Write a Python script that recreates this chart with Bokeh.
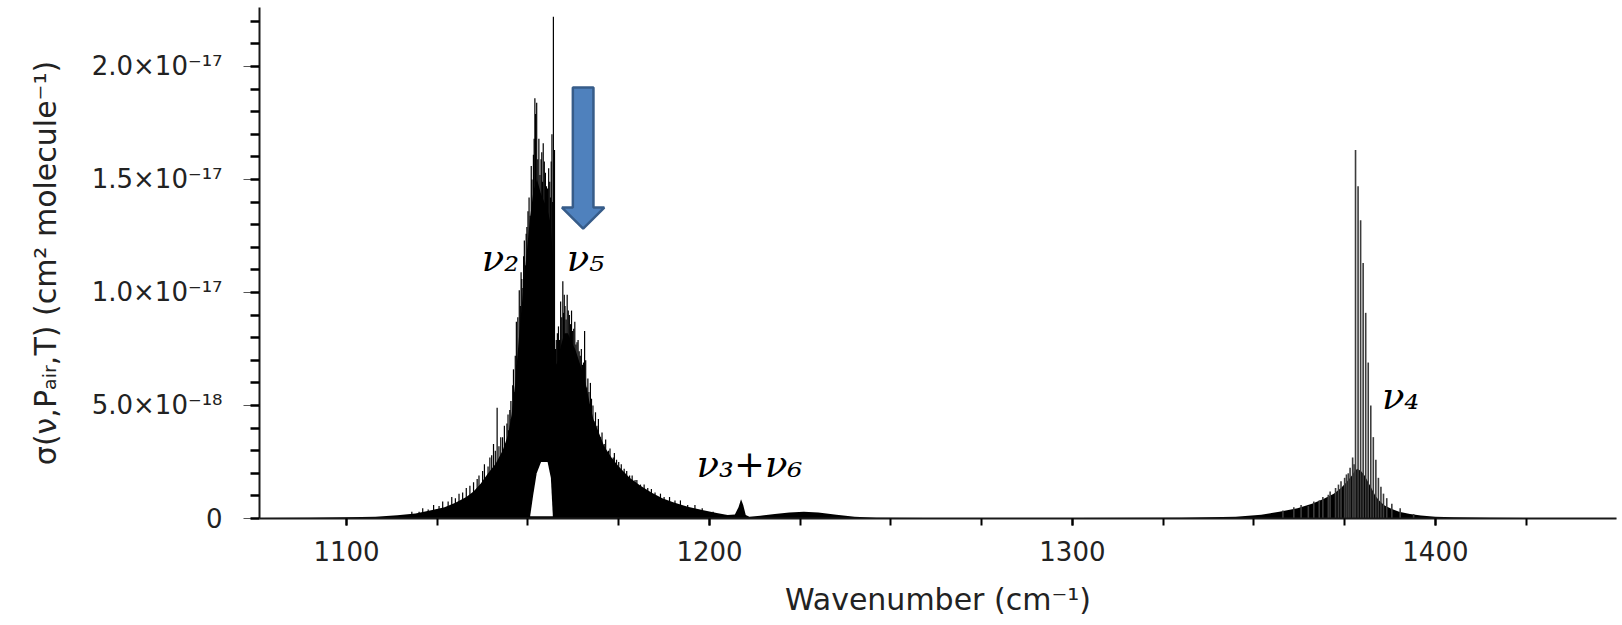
from bokeh.plotting import figure
from bokeh.models import FixedTicker, CustomJSTickFormatter, Range1d
from bokeh.core.properties import value
from bokeh.embed import file_html
from bokeh.resources import INLINE

# ---------------- data (cross-section in units of 1e-18 cm^2 molecule^-1) ----------------
# dense-band envelope (filled area)
env_x = [1076, 1090, 1100, 1108, 1114, 1119, 1123, 1127, 1130, 1133, 1135, 1137, 1139, 1141, 1143,
         1144.5, 1145.5, 1146.5, 1147.5, 1148.5, 1149.5, 1150.5, 1151.5, 1152.5, 1153.5, 1154.5,
         1155.5, 1156.3, 1156.9, 1157.3, 1158, 1159, 1160, 1161, 1162, 1163, 1164, 1165, 1166,
         1167, 1168, 1169.5, 1171, 1173, 1175, 1178, 1181, 1184, 1187, 1190, 1194, 1198, 1202,
         1205, 1207, 1208, 1208.7, 1209.3, 1210, 1211, 1214, 1218, 1222, 1226, 1230, 1235, 1240,
         1246, 1260, 1300, 1330, 1345, 1352, 1357, 1362, 1366, 1369, 1372, 1374, 1375.5, 1377,
         1377.8, 1378.5, 1379.5, 1380.5, 1381.5, 1382.5, 1383.5, 1384.5, 1386, 1388, 1390, 1393,
         1396, 1400, 1405, 1415, 1430, 1450]
env_y = [0.02, 0.03, 0.05, 0.08, 0.14, 0.22, 0.35, 0.5, 0.7, 0.95, 1.2, 1.55, 2.0, 2.4, 3.0,
         3.7, 4.6, 6.0, 8.0, 9.8, 11.5, 13.2, 14.5, 15.0, 14.4, 14.0,
         13.6, 13.0, 11.5, 7.0, 6.8, 7.6, 8.2, 8.2, 7.8, 7.5, 7.0, 6.5, 5.9,
         5.1, 4.4, 3.8, 3.2, 2.7, 2.3, 1.8, 1.45, 1.15, 0.9, 0.72, 0.52, 0.38, 0.24,
         0.15, 0.18, 0.5, 0.85, 0.6, 0.15, 0.08, 0.12, 0.2, 0.27, 0.3, 0.26, 0.17, 0.08,
         0.03, 0.02, 0.02, 0.03, 0.08, 0.17, 0.3, 0.45, 0.65, 0.85, 1.1, 1.35, 1.6, 1.9,
         2.1, 2.2, 2.1, 1.9, 1.6, 1.3, 1.0, 0.8, 0.58, 0.42, 0.3, 0.2,
         0.13, 0.08, 0.05, 0.03, 0.02, 0.02]

# strongest individual lines of the nu2 / nu5 band
main_x = [1118, 1121, 1124, 1126.5, 1129, 1131, 1133, 1135, 1136.5, 1138, 1139.5, 1140.5, 1141.5,
          1142.5, 1143.5, 1144.5, 1145.3, 1146, 1146.8, 1147.6, 1148.3, 1149, 1149.7, 1150.3,
          1150.9, 1151.5, 1151.9, 1152.4, 1153, 1153.6, 1154.2, 1154.8, 1155.4, 1156, 1156.6,
          1157.0, 1157.3, 1157.8, 1158.4, 1159, 1159.6, 1160.2, 1160.8, 1161.4, 1162, 1162.6,
          1163.2, 1163.8, 1164.4, 1165, 1165.6, 1166.2, 1166.8, 1167.5, 1168.2, 1169, 1170, 1171,
          1172.2, 1173.5, 1175, 1176.5, 1178, 1180, 1182, 1184, 1186.5, 1189, 1192, 1196]
main_y = [0.3, 0.45, 0.6, 0.75, 0.95, 1.1, 1.35, 1.6, 1.9, 2.4, 2.7, 3.3, 4.9,
          3.6, 4.1, 4.6, 5.2, 6.6, 8.7, 10.1, 10.6, 12.3, 12.9, 14.2,
          15.6, 16.1, 18.6, 18.4, 16.8, 15.9, 16.6, 15.3, 14.6, 14.9, 17.0,
          22.2, 16.3, 7.9, 8.5, 9.6, 10.5, 9.4, 9.9, 9.0, 9.2, 8.4,
          7.7, 7.9, 7.2, 6.8, 8.3, 5.8, 5.6, 5.3, 4.3, 4.1, 3.6, 3.3,
          3.0, 2.7, 2.5, 2.2, 1.9, 1.7, 1.5, 1.3, 1.1, 0.95, 0.8, 0.6]

# weaker lines that make the ragged edge of the band
fine_x = [1120, 1122.5, 1125.5, 1128, 1130, 1132, 1134, 1136, 1137.5, 1139, 1140, 1141, 1142, 1143,
          1144.2, 1144.6, 1145.0, 1145.4, 1145.8, 1146.2, 1146.5, 1146.9, 1147.2, 1147.9, 1148.1,
          1148.6, 1148.8, 1149.3, 1149.5, 1150.0, 1150.6, 1151.1, 1151.7, 1152.1, 1152.7, 1153.3,
          1153.8, 1154.0, 1154.5, 1155.1, 1155.7, 1156.2, 1156.4, 1156.8,
          1157.6, 1158.1, 1158.7, 1159.3, 1159.8, 1160.0, 1160.5, 1161.1, 1161.7, 1162.3, 1162.9,
          1163.5, 1164.1, 1164.7, 1165.3, 1165.9, 1166.5, 1167.2, 1167.9, 1168.6, 1169.4, 1170.4,
          1171.4, 1172.6, 1173.8, 1174.4, 1175.7, 1177.2, 1178.7, 1179.5, 1181, 1183, 1185,
          1187.5, 1190.5, 1194, 1198, 1201]
fine_y = [0.3, 0.4, 0.55, 0.75, 0.9, 1.15, 1.45, 1.75, 2.1, 2.3, 2.8, 3.0, 3.2, 3.6,
          4.2, 3.9, 4.8, 4.4, 5.9, 5.6, 7.2, 6.8, 8.9, 9.4, 10.9,
          10.2, 11.6, 11.2, 12.6, 13.6, 13.4, 15.0, 16.8, 17.9, 15.9, 15.2,
          16.2, 14.9, 15.8, 14.7, 15.5, 14.2, 15.8, 14.0,
          7.5, 8.2, 7.9, 8.9, 9.1, 9.9, 8.8, 9.2, 8.6, 8.3, 8.7,
          7.8, 7.4, 7.5, 6.9, 7.0, 6.2, 6.0, 5.0, 4.7, 4.4, 3.8,
          3.5, 3.1, 2.9, 2.6, 2.4, 2.1, 1.9, 1.7, 1.5, 1.35, 1.15,
          0.95, 0.8, 0.6, 0.45, 0.3]

# white gap under the central part of the band
notch_x = [1150.6, 1151.4, 1152.4, 1153.6, 1155.4, 1156.3, 1156.85]
notch_top = [0.1, 1.0, 2.0, 2.5, 2.5, 1.8, 0.1]

# nu4 band lines
nu4_x = [1358, 1361, 1363, 1365, 1366.5, 1368, 1369, 1370.5, 1371, 1372.5, 1373.3, 1374, 1375,
         1375.5, 1376, 1376.5, 1377.2, 1377.6, 1378.0, 1378.7, 1379.4, 1380.1,
         1380.8, 1381.5, 1382.2, 1382.9, 1383.6, 1384.3, 1385.0, 1385.7, 1386.6, 1388.0, 1390.3, 1394.0]
nu4_y = [0.35, 0.5, 0.6, 0.55, 0.75, 0.8, 0.95, 1.05, 1.2, 1.35, 1.5, 1.65, 1.8,
         1.95, 2.0, 2.25, 2.7, 2.4, 16.3, 14.7, 13.2, 11.3,
         9.1, 6.9, 5.0, 3.6, 2.6, 1.8, 1.4, 1.1, 0.9, 0.65, 0.45, 0.2]

# band labels
ann_text = ["ν₂", "ν₅", "ν₃+ν₆", "ν₄"]
ann_x = [1142.4, 1165.8, 1211.0, 1390.4]
ann_y = [11.5, 11.5, 2.4, 5.4]

# block arrow pointing at the nu5 band
arrow_x = 1165.2
arrow_top, arrow_neck, arrow_tip = 19.07, 13.76, 12.83
arrow_shaft_half, arrow_head_half = 2.84, 5.83

# axes
x_ticks = [1100, 1200, 1300, 1400]
x_minor = [1075, 1100, 1125, 1150, 1175, 1200, 1225, 1250, 1275, 1300, 1325, 1350, 1375, 1400, 1425, 1450]
y_ticks = [0, 5, 10, 15, 20]
y_labels = ["0", "5.0×10⁻¹⁸", "1.0×10⁻¹⁷", "1.5×10⁻¹⁷", "2.0×10⁻¹⁷"]
y_minor = list(range(0, 23))

# ---------------- figure ----------------
p = figure(width=1622, height=625, output_backend="svg", toolbar_location=None,
           x_range=Range1d(1076.03, 1449.9), y_range=Range1d(0, 22.61),
           min_border_left=259, min_border_right=6, min_border_top=7, min_border_bottom=107)
p.outline_line_color = None
p.xgrid.grid_line_color = None
p.ygrid.grid_line_color = None
p.background_fill_color = "white"
p.border_fill_color = "white"

p.varea(x=env_x, y1=0, y2=env_y, fill_color="black")
p.segment(x0=fine_x, y0=0, x1=fine_x, y1=fine_y, line_color="black", line_width=1.2)
p.segment(x0=main_x, y0=0, x1=main_x, y1=main_y, line_color="black", line_width=1.2)
p.varea(x=notch_x, y1=0.1, y2=notch_top, fill_color="white")
p.segment(x0=nu4_x, y0=0, x1=nu4_x, y1=nu4_y, line_color="#3c3c3c", line_width=1.6)

ax_ = arrow_x
p.patch(x=[ax_ - arrow_shaft_half, ax_ + arrow_shaft_half, ax_ + arrow_shaft_half, ax_ + arrow_head_half,
           ax_, ax_ - arrow_head_half, ax_ - arrow_shaft_half],
        y=[arrow_top, arrow_top, arrow_neck, arrow_neck, arrow_tip, arrow_neck, arrow_neck],
        fill_color="#4F81BD", line_color="#375C89", line_width=2.5)

p.text(x=ann_x, y=ann_y, text=ann_text, text_font=value("DejaVu Serif"), text_font_style="italic",
       text_font_size="37px", text_align="center", text_baseline="middle", text_color="black")

# x axis
xa = p.xaxis[0]
xa.ticker = FixedTicker(ticks=x_ticks, minor_ticks=x_minor)
xa.axis_label = "Wavenumber (cm⁻¹)"
# y axis
ya = p.yaxis[0]
ya.ticker = FixedTicker(ticks=y_ticks, minor_ticks=y_minor)
ya.formatter = CustomJSTickFormatter(args=dict(vals=y_ticks, labels=y_labels),
                                     code="const i = vals.indexOf(tick); return i >= 0 ? labels[i] : '';")
ya.axis_label = "σ(ν,Pₐᵢᵣ,T) (cm² molecule⁻¹)"

for a in (xa, ya):
    a.axis_line_color = "#1a1a1a"
    a.axis_line_width = 2
    a.major_label_text_font = "DejaVu Sans"
    a.major_label_text_font_size = "26px"
    a.major_label_text_color = "#222222"
    a.axis_label_text_font = "DejaVu Sans"
    a.axis_label_text_font_size = "30px"
    a.axis_label_text_font_style = "normal"
    a.axis_label_text_color = "#222222"

xa.major_tick_in = 0
xa.major_tick_out = 7
xa.major_tick_line_width = 2
xa.minor_tick_in = 0
xa.minor_tick_out = 7
xa.minor_tick_line_width = 2
xa.major_label_standoff = 15
xa.axis_label_standoff = 18

ya.major_tick_in = 0
ya.major_tick_out = 16
ya.major_tick_line_width = 1
ya.major_tick_line_color = "#555555"
ya.minor_tick_in = 0
ya.minor_tick_out = 9
ya.minor_tick_line_width = 2.5
ya.major_label_standoff = 21
ya.axis_label_standoff = 26

open("out.html", "w").write(file_html(p, INLINE))
